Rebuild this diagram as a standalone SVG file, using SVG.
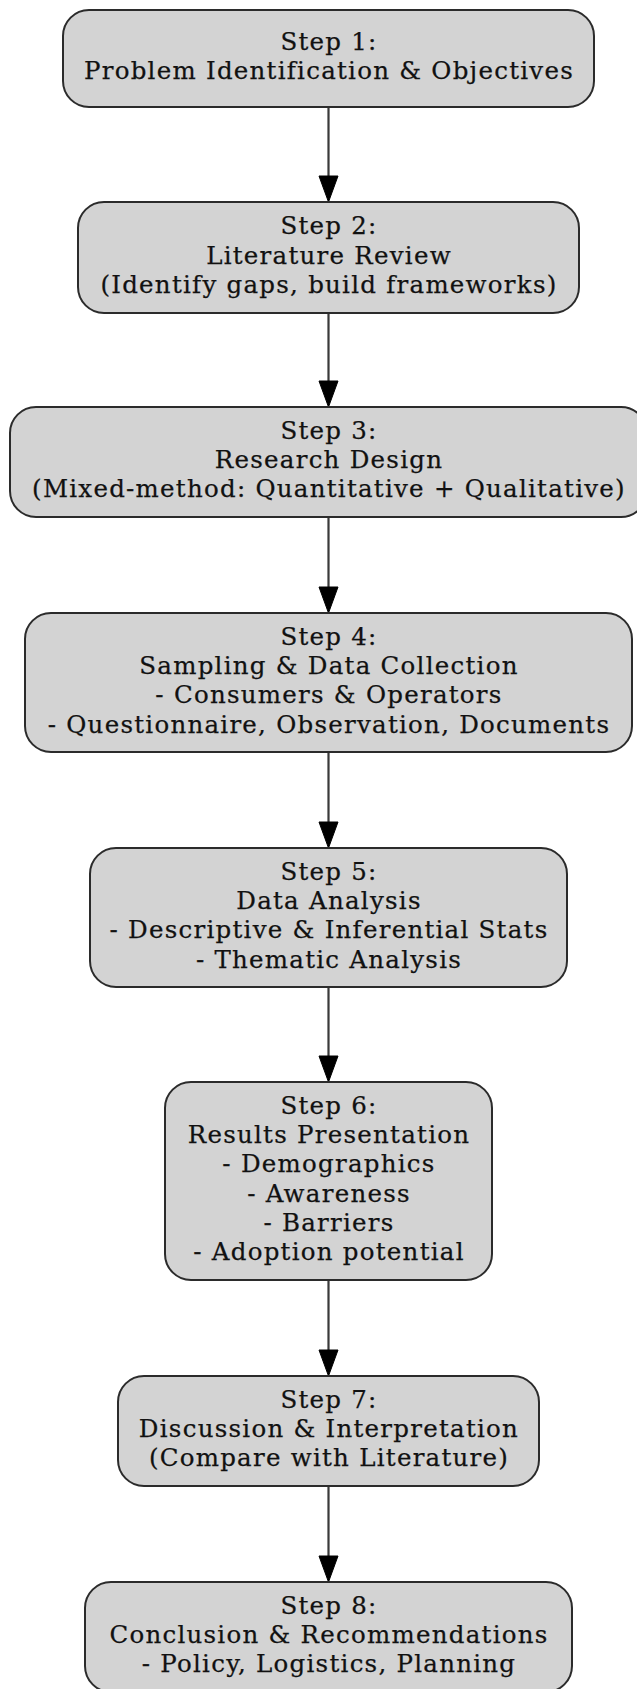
<svg xmlns="http://www.w3.org/2000/svg" width="637" height="1689" viewBox="0 0 637 1689">
<defs>
<style>
.node rect{fill:#d3d3d3;stroke:#2b2b2b;stroke-width:2}
.node text{font-family:"DejaVu Serif","Liberation Serif",serif;font-size:24.5px;letter-spacing:1.25px;fill:#111;stroke:#111;stroke-width:0.25;text-anchor:middle}
.edge{stroke:#3a3a3a;stroke-width:2.2;fill:none;marker-end:url(#arrow)}
</style>
<marker id="arrow" markerUnits="userSpaceOnUse" markerWidth="28" markerHeight="22" refX="0" refY="10" orient="auto" overflow="visible">
<path d="M0,0.5 L26,10 L0,19.5 Z" fill="#000" stroke="#000" stroke-width="1"/>
</marker>
</defs>
<rect x="0" y="0" width="637" height="1689" fill="#fff"/>
<g id="connectors">
<path class="edge" d="M328.5,107 V176"/>
<path class="edge" d="M328.5,313 V381"/>
<path class="edge" d="M328.5,517 V587"/>
<path class="edge" d="M328.5,752 V822"/>
<path class="edge" d="M328.5,987 V1056"/>
<path class="edge" d="M328.5,1280 V1350"/>
<path class="edge" d="M328.5,1486 V1556"/>
</g>
<g id="step1" class="node">
<rect x="63" y="10" width="531" height="97" rx="26" ry="26"/>
<text x="329" y="49.9">Step 1:</text>
<text x="329" y="79.2">Problem Identification &amp; Objectives</text>
</g>
<g id="step2" class="node">
<rect x="78" y="202" width="501" height="111" rx="26" ry="26"/>
<text x="329" y="234.2">Step 2:</text>
<text x="329" y="263.5">Literature Review</text>
<text x="329" y="292.8">(Identify gaps, build frameworks)</text>
</g>
<g id="step3" class="node">
<rect x="10" y="407" width="637" height="110" rx="26" ry="26"/>
<text x="329" y="438.7">Step 3:</text>
<text x="329" y="468">Research Design</text>
<text x="329" y="497.3">(Mixed-method: Quantitative + Qualitative)</text>
</g>
<g id="step4" class="node">
<rect x="25" y="613" width="607" height="139" rx="26" ry="26"/>
<text x="329" y="644.5">Step 4:</text>
<text x="329" y="673.8">Sampling &amp; Data Collection</text>
<text x="329" y="703.2">- Consumers &amp; Operators</text>
<text x="329" y="732.5">- Questionnaire, Observation, Documents</text>
</g>
<g id="step5" class="node">
<rect x="90" y="848" width="477" height="139" rx="26" ry="26"/>
<text x="329" y="879.5">Step 5:</text>
<text x="329" y="908.8">Data Analysis</text>
<text x="329" y="938.2">- Descriptive &amp; Inferential Stats</text>
<text x="329" y="967.5">- Thematic Analysis</text>
</g>
<g id="step6" class="node">
<rect x="165" y="1082" width="327" height="198" rx="26" ry="26"/>
<text x="329" y="1113.8">Step 6:</text>
<text x="329" y="1143.1">Results Presentation</text>
<text x="329" y="1172.4">- Demographics</text>
<text x="329" y="1201.7">- Awareness</text>
<text x="329" y="1231">- Barriers</text>
<text x="329" y="1260.3">- Adoption potential</text>
</g>
<g id="step7" class="node">
<rect x="118" y="1376" width="421" height="110" rx="26" ry="26"/>
<text x="329" y="1407.7">Step 7:</text>
<text x="329" y="1437">Discussion &amp; Interpretation</text>
<text x="329" y="1466.3">(Compare with Literature)</text>
</g>
<g id="step8" class="node">
<rect x="85" y="1582" width="487" height="110" rx="26" ry="26"/>
<text x="329" y="1613.7">Step 8:</text>
<text x="329" y="1643">Conclusion &amp; Recommendations</text>
<text x="329" y="1672.3">- Policy, Logistics, Planning</text>
</g>
</svg>
